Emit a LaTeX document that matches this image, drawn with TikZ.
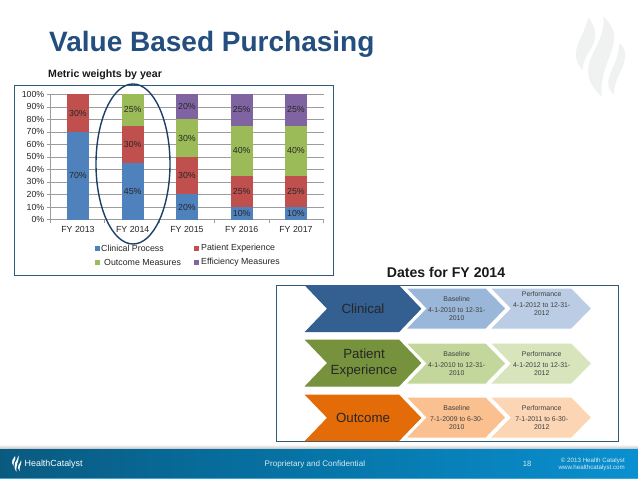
\documentclass[tikz,border=0pt]{standalone}
\usepackage{fontspec}
\setmainfont{Liberation Sans}
\usetikzlibrary{calc}
\definecolor{cBlue}{HTML}{4F81BD}
\definecolor{cRed}{HTML}{C0504D}
\definecolor{cGreen}{HTML}{9BBB59}
\definecolor{cPurple}{HTML}{8064A2}
\definecolor{frameC}{HTML}{2F5B78}
\definecolor{titleC}{HTML}{234E7D}
\definecolor{ringC}{HTML}{1C3F68}
\definecolor{gridC}{HTML}{9C9C9C}
\definecolor{flameC}{HTML}{F0F2F2}
\definecolor{txtC}{HTML}{262626}
\definecolor{footL}{HTML}{0A5A80}
\definecolor{footM}{HTML}{0675A8}
\definecolor{footR}{HTML}{0A90D0}
\definecolor{footLine}{HTML}{3AA7D8}
\definecolor{bA}{HTML}{335F91}\definecolor{bB}{HTML}{9AB6D8}\definecolor{bC}{HTML}{BACDE5}
\definecolor{gA}{HTML}{76923C}\definecolor{gB}{HTML}{C3D69B}\definecolor{gC}{HTML}{D8E4BC}
\definecolor{oA}{HTML}{E36C09}\definecolor{oB}{HTML}{FAC090}\definecolor{oC}{HTML}{FCD5B4}
\newcommand{\fsz}[1]{\fontsize{#1}{#1}\selectfont}
% x0, x1, ytop, ybottom, depth, fill, border
\newcommand{\chevshape}[7]{%
  \path[draw=#7,line width=1pt,fill=#6,line join=miter]
    (#1,#3) -- ({#2-#5},#3) -- (#2,{(#3+#4)/2}) -- ({#2-#5},#4) -- (#1,#4) -- ({#1+#5},{(#3+#4)/2}) -- cycle;%
}
\tikzset{
  x=1pt,y=-1pt,
  charttxt/.style={font=\fsz{8.8},text=txtC,inner sep=0pt},
  seglbl/.style={font=\fsz{8.8},text=black!85,inner sep=0pt},
  bigchev/.style={font=\fsz{13.3},text=black!85,align=center,inner sep=0pt},
  smallchev/.style={font=\fsz{6.9},text=black!75,align=center,inner sep=0pt},
  foot/.style={font=\fsz{7.6},text=white!85!footM,inner sep=0pt},
  boxframe/.style={draw=frameC,line width=0.9pt,fill=white},
  flame/.style={fill=flameC,draw=none},
  logoflame/.style={fill=white,draw=none}
}
\begin{document}
\begin{tikzpicture}
\useasboundingbox (0,0) rectangle (638,479);
\fill[white] (0,0) rectangle (638,479);
% watermark
\fill[flame] (588.3,18) .. controls (594,24) and (596,30) .. (595,38) .. controls (594,48) and (583,56) .. (582.7,70) .. controls (577,64) and (575,58) .. (576,52) .. controls (577,42) and (584,34) .. (588.3,18) -- cycle;
\fill[flame] (603.3,16) .. controls (611,24) and (615,32) .. (614,40) .. controls (612,58) and (600,70) .. (601.7,96.7) .. controls (592,88) and (587,78) .. (588.3,68) .. controls (590,52) and (606,38) .. (603.3,16) -- cycle;
\fill[flame] (619.3,42.7) .. controls (624,47) and (626,52) .. (625,58) .. controls (623,72) and (614,78) .. (614,95) .. controls (610,91) and (607.5,87) .. (608.3,81) .. controls (610,70) and (619,60) .. (619.3,42.7) -- cycle;
% titles
\node[anchor=base west,inner sep=0pt,font=\fsz{28}\bfseries,text=titleC] (title) at (49,52) {Value Based Purchasing};
\node[anchor=base west,inner sep=0pt,font=\fsz{10.6}\bfseries,text=black!90] (subtitle) at (48,77) {Metric weights by year};
% chart frame
\draw[boxframe] (14.7,85) rectangle (333,275);
% grid and tick labels
\foreach \p in {0,10,...,100}{
  \pgfmathsetmacro{\yy}{219.5-1.252*\p}
  \draw[gridC,line width=0.5pt] (46.5,\yy) -- (323.5,\yy);
  \node[charttxt,anchor=east] (tick\p) at (44.5,\yy) {\p\%};
}
\draw[gridC,line width=0.6pt] (50,94.3) -- (50,219.5);
\foreach \i in {0,...,5}{
  \pgfmathsetmacro{\xx}{50+54.7*\i}
  \draw[gridC,line width=0.6pt] (\xx,219.5) -- (\xx,223);
}
% stacked bars
\foreach \cx/\a/\b/\c in {78/0/70/cBlue,78/70/100/cRed,
  132.7/0/45/cBlue,132.7/45/75/cRed,132.7/75/100/cGreen,
  187/0/20/cBlue,187/20/50/cRed,187/50/80/cGreen,187/80/100/cPurple,
  241.7/0/10/cBlue,241.7/10/35/cRed,241.7/35/75/cGreen,241.7/75/100/cPurple,
  296/0/10/cBlue,296/10/35/cRed,296/35/75/cGreen,296/75/100/cPurple}{
  \pgfmathsetmacro{\ya}{219.5-1.252*\a}
  \pgfmathsetmacro{\yb}{219.5-1.252*\b}
  \pgfmathsetmacro{\ym}{(\ya+\yb)/2}
  \pgfmathtruncatemacro{\v}{\b-\a}
  \fill[\c] ({\cx-11},\ya) rectangle ({\cx+11},\yb);
  \node[seglbl] (seg-\cx-\a) at (\cx,\ym) {\v\%};
}
% categories
\foreach \cx/\lab in {78/2013,132.7/2014,187/2015,241.7/2016,296/2017}{
  \node[charttxt] (cat\lab) at (\cx,229.5) {FY \lab};
}
% legend
\foreach \sx/\sy/\c/\tx/\lab/\nm in {97/248/cBlue/101/Clinical Process/a,196/248/cRed/201/Patient Experience/b,97/262.7/cGreen/104/Outcome Measures/c,196/262.7/cPurple/201/Efficiency Measures/d}{
  \fill[\c] ({\sx-2.5},{\sy-2.5}) rectangle ({\sx+2.5},{\sy+2.5});
  \node[charttxt,anchor=west] (leg\nm) at (\tx,\sy) {\lab};
}
% ring
\draw[ringC,line width=1.4pt] (133,164) ellipse [x radius=37,y radius=80];
% dates
\node[anchor=center,inner sep=0pt,font=\fsz{14.1}\bfseries,text=black!90] (datestitle) at (446,272) {Dates for FY 2014};
\draw[boxframe] (276,285) rectangle (618.5,441.2);
% row 1
\chevshape{405.7}{506}{288}{329}{20}{bB}{white}
\chevshape{490}{591.7}{288}{329}{20}{bC}{white}
\chevshape{305.7}{420.7}{285.7}{331.7}{22}{bA}{bA}
% row 2
\chevshape{405.7}{506}{343}{384}{20}{gB}{white}
\chevshape{490}{591.7}{343}{384}{20}{gC}{white}
\chevshape{305.7}{420.7}{340}{386}{22}{gA}{gA}
% row 3
\chevshape{405.7}{506}{397}{438}{20}{oB}{white}
\chevshape{490}{591.7}{397}{438}{20}{oC}{white}
\chevshape{305.7}{420.7}{395}{440.7}{22}{oA}{oA}
% chevron text
\node[bigchev] (clin) at (363,308.7) {Clinical};
\node[bigchev] (pat) at (364,363) {Patient\\[2pt]Experience};
\node[bigchev] (outc) at (363,417.5) {Outcome};
\node[smallchev] (b1a) at (456.7,299) {Baseline};
\node[smallchev] (b1b) at (456.7,314.2) {4-1-2010 to 12-31-\\[1pt]2010};
\node[smallchev] (p1a) at (541.7,294.5) {Performance};
\node[smallchev] (p1b) at (541.7,309.2) {4-1-2012 to 12-31-\\[1pt]2012};
\node[smallchev] (b2a) at (456.7,354.5) {Baseline};
\node[smallchev] (b2b) at (456.7,369) {4-1-2010 to 12-31-\\[1pt]2010};
\node[smallchev] (p2a) at (541.7,354.5) {Performance};
\node[smallchev] (p2b) at (541.7,369) {4-1-2012 to 12-31-\\[1pt]2012};
\node[smallchev] (b3a) at (456.7,408.5) {Baseline};
\node[smallchev] (b3b) at (456.7,423.5) {7-1-2009 to 6-30-\\[1pt]2010};
\node[smallchev] (p3a) at (541.7,408.5) {Performance};
\node[smallchev] (p3b) at (541.7,423.5) {7-1-2011 to 6-30-\\[1pt]2012};
% footer
\shade[top color=white,bottom color=black!28] (0,444.5) rectangle (638,449.6);
\shade[left color=footL,right color=footM] (0,449.5) rectangle (319,478);
\shade[left color=footM,right color=footR] (319,449.5) rectangle (638,478);
\fill[footLine] (0,477.8) rectangle (638,479);
\fill[logoflame] (15,456) .. controls (16.5,459) and (13,462) .. (13.5,466) .. controls (12,464) and (11.5,462) .. (12.5,460) .. controls (13.5,458.5) and (14.5,458) .. (15,456) -- cycle;
\fill[logoflame] (18.5,455.5) .. controls (20,459) and (15.5,464) .. (16.5,472) .. controls (14.5,469) and (14,466) .. (15,463) .. controls (16,460.5) and (18,459) .. (18.5,455.5) -- cycle;
\fill[logoflame] (21,460) .. controls (22.5,463) and (19,466) .. (19.5,471) .. controls (18,469) and (17.5,467) .. (18.5,465) .. controls (19.5,463.5) and (20.8,462.5) .. (21,460) -- cycle;
\node[anchor=west,inner sep=0pt,font=\fsz{8.9},text=white] (logo) at (24.5,464) {HealthCatalyst};
\node[foot,anchor=west,font=\fsz{8.1}] (conf) at (264.5,464) {Proprietary and Confidential};
\node[foot,font=\fsz{7.6}] (pageno) at (527,464) {18};
\node[foot,anchor=east,align=right,font=\fsz{6.2}] (copy) at (625,464) {© 2013 Health Catalyst\\[1pt]www.healthcatalyst.com};
\end{tikzpicture}
\end{document}
